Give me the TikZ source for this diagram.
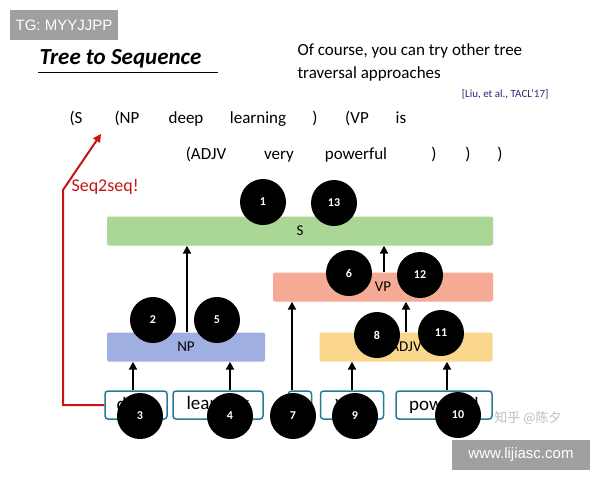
\documentclass[tikz,border=0pt]{standalone}
\usepackage{fontspec}
\setmainfont{Carlito}
\newfontfamily\cjk{Noto Sans CJK SC}
\newfontfamily\sans{Liberation Sans}
\usetikzlibrary{arrows.meta}
\definecolor{seqred}{RGB}{200,20,20}
\tikzset{
	seq/.style={font=\fontsize{17}{20}\selectfont, anchor=base},
	cat/.style={draw=none, rounded corners=2pt, minimum height=29pt, font=\fontsize{15}{17}\selectfont},
	word/.style={draw={rgb,255:red,40;green,120;blue,150}, line width=1.5pt, fill=white, rounded corners=3pt, minimum height=28pt, font=\fontsize{19}{21}\selectfont},
	order/.style={circle, fill=black, minimum size=46pt, inner sep=0pt, text=white, font=\bfseries\fontsize{12}{14}\selectfont},
	up/.style={-{Triangle[length=8pt,width=8pt]}, line width=2.2pt},
	tag/.style={fill={rgb,255:red,160;green,160;blue,160}, text=white, font=\sans\fontsize{15}{17}\selectfont, inner sep=0pt}
}
\begin{document}
\begin{tikzpicture}[x=1pt,y=-1pt]
	\useasboundingbox (0,0) rectangle (600,480);
	\fill[white] (0,0) rectangle (600,480);
	
	% header
	\node[tag, minimum width=108pt, minimum height=30pt] (tg) at (64,25) {TG: MYYJJPP};
	\node[anchor=west, font=\bfseries\itshape\fontsize{23}{25}\selectfont] (title) at (36,59) {Tree to Sequence};
	\draw[line width=0.9pt] (38,72) -- (218,72);
	\node[anchor=west, align=left, font=\fontsize{17}{23}\selectfont] (note) at (294,62) {Of course, you can try other tree\\traversal approaches};
	\node[anchor=east, text={rgb,255:red,40;green,40;blue,120}, font=\fontsize{11}{13}\selectfont] (cite) at (552,94) {[Liu, et al., TACL’17]};
	
	% sequence
	\node[seq] (s1) at (76,123) {(S};
	\node[seq] (s2) at (127,123) {(NP};
	\node[seq] (s3) at (186,123) {deep};
	\node[seq] (s4) at (258,123) {learning};
	\node[seq] (s5) at (315,123) {)};
	\node[seq] (s6) at (357,123) {(VP};
	\node[seq] (s7) at (401,123) {is};
	\node[seq] (s8) at (206,159) {(ADJV};
	\node[seq] (s9) at (279,159) {very};
	\node[seq] (s10) at (356,159) {powerful};
	\node[seq] (s11) at (434,159) {)};
	\node[seq] (s12) at (468,159) {)};
	\node[seq] (s13) at (500,159) {)};
	
	% categories
	\node[cat, fill={rgb,255:red,170;green,215;blue,150}, minimum width=386pt] (S) at (300,231) {S};
	\node[cat, fill={rgb,255:red,245;green,170;blue,150}, minimum width=220pt] (VP) at (383,287) {VP};
	\node[cat, fill={rgb,255:red,160;green,175;blue,225}, minimum width=158pt] (NP) at (186,347) {NP};
	\node[cat, fill={rgb,255:red,250;green,215;blue,140}, minimum width=173pt] (ADJV) at (406,347) {ADJV};
	
	% words
	\node[word, minimum width=62pt] (deep) at (136,405) {deep};
	\node[word, minimum width=90pt] (learning) at (218,405) {learning};
	\node[word, minimum width=23pt] (is) at (300,405) {is};
	\node[word, minimum width=63pt] (very) at (352,405) {very};
	\node[word, minimum width=96pt] (powerful) at (444,405) {powerful};
	
	% edges
	\draw[up] (deep.north -| 133,0) -- (NP.south -| 133,0);
	\draw[up] (learning.north -| 230,0) -- (NP.south -| 230,0);
	\draw[up] (NP.north -| 187,0) -- (S.south -| 187,0);
	\draw[up] (is.north -| 292,0) -- (VP.south -| 292,0);
	\draw[up] (very.north -| 352,0) -- (ADJV.south -| 352,0);
	\draw[up] (powerful.north -| 447,0) -- (ADJV.south -| 447,0);
	\draw[up] (ADJV.north -| 406,0) -- (VP.south -| 406,0);
	\draw[up] (VP.north -| 384,0) -- (S.south -| 384,0);
	
	% seq2seq
	\coordinate (bend) at (63,190);
	\coordinate (tip) at (101,134);
	\draw[seqred, line width=2pt, -{Triangle[length=8pt,width=8pt]}] (deep.west) -| (bend) -- (tip);
	\node[anchor=west, text=seqred, font=\fontsize{18}{20}\selectfont] (seqlab) at (68,187) {Seq2seq!};
	
	% order
	\foreach \n/\x/\y in {1/263/202, 13/334/203, 6/349/273, 12/420/275, 2/153/320, 5/217/320, 8/377/335, 11/441/333, 3/140/416, 4/230/416, 7/293/416, 9/355/416, 10/458/415}
		\node[order] (c\n) at (\x,\y) {\n};
	
	% watermarks
	\node[text={rgb,255:red,190;green,190;blue,190}, font=\cjk\fontsize{13}{15}\selectfont] (zh) at (528,418) {知乎 @陈夕};
	\node[tag, minimum width=138pt, minimum height=30pt] (www) at (521,455) {www.lijiasc.com};
\end{tikzpicture}
\end{document}
